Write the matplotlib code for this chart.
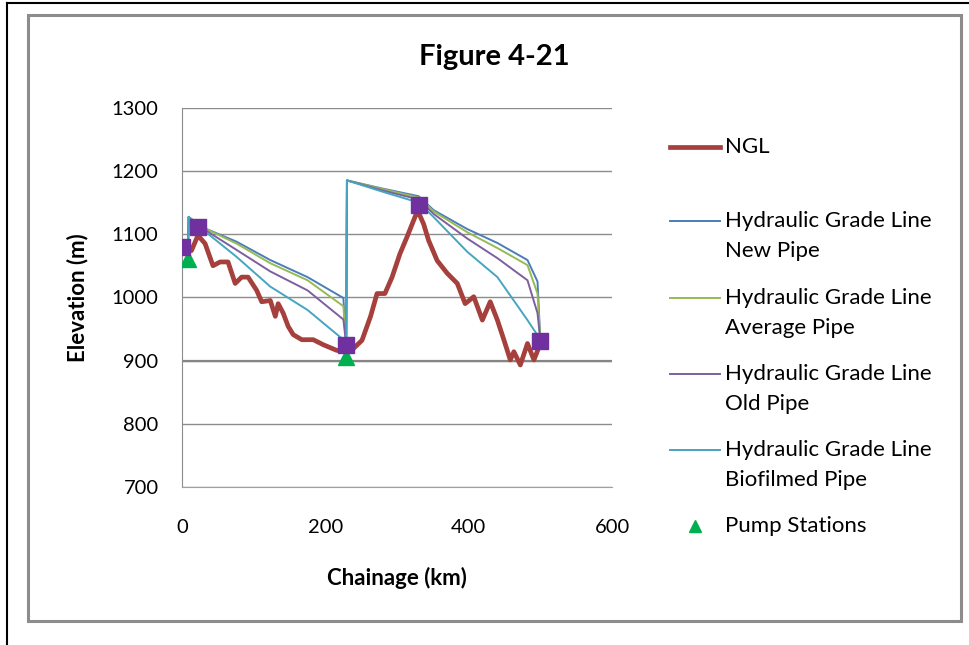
import matplotlib.pyplot as plt
from matplotlib.lines import Line2D
from matplotlib.patches import Rectangle

plt.rcParams['font.family'] = ['Lato', 'DejaVu Sans']

# Natural ground level along the pipeline
ngl_x = [0, 13, 22, 32, 43, 53, 64, 74, 83, 92, 104, 111, 123, 130, 134, 141, 148, 155,
         167, 183, 197, 216, 228, 239, 251, 263, 272, 283, 293, 304, 314, 326, 330, 337,
         344, 356, 370, 384, 395, 407, 419, 430, 440, 449, 458, 463, 472, 482, 491, 500]
ngl_y = [1078, 1074, 1098, 1085, 1050, 1056, 1056, 1022, 1032, 1032, 1011, 993, 995, 970,
         990, 975, 954, 941, 933, 933, 925, 916, 916, 919, 932, 970, 1006, 1006, 1032, 1069,
         1096, 1130, 1134, 1116, 1090, 1058, 1038, 1022, 990, 1001, 964, 993, 964, 933, 901,
         914, 893, 927, 901, 927]

# Hydraulic grade lines
hgl_x = [8, 9, 30, 76, 123, 175, 225, 229, 230, 280, 330, 351, 398, 440, 482, 496, 500]
hgl_new = [1062, 1127, 1110, 1088, 1059, 1032, 999, 925, 1185, 1172, 1160, 1138, 1108, 1086, 1059, 1025, 931]
hgl_avg = [1062, 1127, 1110, 1085, 1054, 1027, 986, 925, 1185, 1171, 1158, 1136, 1103, 1078, 1051, 1006, 931]
hgl_old = [1062, 1127, 1108, 1075, 1041, 1011, 965, 925, 1185, 1169, 1155, 1132, 1093, 1062, 1027, 975, 931]
hgl_bio = [1062, 1127, 1106, 1064, 1017, 980, 933, 925, 1185, 1167, 1150, 1127, 1072, 1032, 964, 940, 931]

# Pump stations and key points
pump_x = [8, 229]
pump_y = [1060, 906]
key_x = [0, 22, 229, 330, 500]
key_y = [1080, 1112, 924, 1146, 931]

c_ngl = '#A5403C'
c_new = '#4A7EBB'
c_avg = '#98B954'
c_old = '#7D5FA0'
c_bio = '#46A5C0'
c_pump = '#00B050'
c_key = '#7030A0'

fig = plt.figure(figsize=(9.69, 6.45), dpi=100)
ax = fig.add_axes([0.188, 0.245, 0.4436, 0.588])

ax.plot(ngl_x, ngl_y, color=c_ngl, lw=3.4, solid_joinstyle='round', zorder=3)
ax.plot(hgl_x, hgl_new, color=c_new, lw=1.4, zorder=4)
ax.plot(hgl_x, hgl_avg, color=c_avg, lw=1.4, zorder=4)
ax.plot(hgl_x, hgl_old, color=c_old, lw=1.4, zorder=4)
ax.plot(hgl_x, hgl_bio, color=c_bio, lw=1.4, zorder=4)
ax.plot(pump_x, pump_y, '^', color=c_pump, ms=11, mec=c_pump, ls='none', zorder=5)
ax.plot(key_x, key_y, 's', color=c_key, ms=11, mec=c_key, ls='none', zorder=6)

ax.set_xlim(0, 600)
ax.set_ylim(700, 1300)
ax.set_xticks([0, 200, 400, 600])
ax.set_yticks(range(700, 1301, 100))
ax.yaxis.grid(True, color='#8C8C8C', lw=1)
ax.axhline(900, color='#858585', lw=1.6, zorder=2)
ax.set_axisbelow(True)
for s in ['top', 'right']:
    ax.spines[s].set_visible(False)
ax.spines['bottom'].set_color('#A0A0A0')
ax.spines['left'].set_color('#8C8C8C')
ax.tick_params(axis='both', length=0, labelsize=14.5, colors='black')
ax.tick_params(axis='y', pad=17)
ax.tick_params(axis='x', pad=23)

ax.set_xlabel('Chainage (km)', fontsize=16, fontweight='bold', labelpad=22)
ax.set_ylabel('Elevation (m)', fontsize=16, fontweight='bold', labelpad=17)
fig.text(494 / 969, 1 - 57 / 645, 'Figure 4-21', fontsize=21, fontweight='bold',
         ha='center', va='center')

# legend drawn by hand to match the two-line entries
W, H = 969, 645
entries = [
    (['NGL'], c_ngl, 3.4, 147, None),
    (['Hydraulic Grade Line', 'New Pipe'], c_new, 1.4, 221, None),
    (['Hydraulic Grade Line', 'Average Pipe'], c_avg, 1.4, 298, None),
    (['Hydraulic Grade Line', 'Old Pipe'], c_old, 1.4, 374, None),
    (['Hydraulic Grade Line', 'Biofilmed Pipe'], c_bio, 1.4, 450, None),
    (['Pump Stations'], c_pump, 0, 526, '^'),
]
for lines, col, lw, y, mk in entries:
    if mk is None:
        fig.add_artist(Line2D([670 / W, 720 / W], [1 - y / H] * 2, color=col, lw=lw,
                              transform=fig.transFigure))
    else:
        fig.add_artist(Line2D([695 / W], [1 - y / H], marker=mk, color=col, ms=9, ls='none',
                              transform=fig.transFigure))
    for i, txt in enumerate(lines):
        fig.text(725 / W, 1 - (y + 30 * i) / H, txt, fontsize=16, ha='left', va='center')

# chart borders
fig.add_artist(Rectangle((28 / W, 1 - 621 / H), (961 - 28) / W, (621 - 15) / H,
                         transform=fig.transFigure, fill=False, edgecolor='#8C8C8C', lw=2.2))
fig.add_artist(Line2D([7 / W, 1], [1 - 3 / H] * 2, color='black', lw=1.5, transform=fig.transFigure))
fig.add_artist(Line2D([7 / W] * 2, [0, 1 - 3 / H], color='black', lw=1.5, transform=fig.transFigure))

fig.savefig('out.png', dpi=100)
